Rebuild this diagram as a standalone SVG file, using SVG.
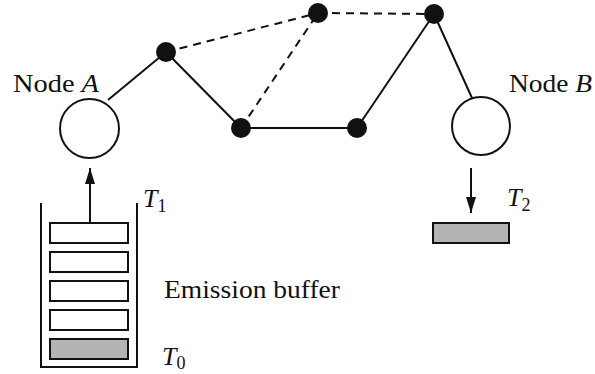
<svg xmlns="http://www.w3.org/2000/svg" width="595" height="374" viewBox="0 0 595 374">
  <style>
    .ln { stroke: #111; stroke-width: 2; fill: none; }
    .dash { stroke: #111; stroke-width: 2; fill: none; stroke-dasharray: 8 6; }
    .dot { fill: #111; }
    .node { fill: #fff; stroke: #111; stroke-width: 2; }
    .slot { fill: #fff; stroke: #111; stroke-width: 2; }
    .pkt { fill: #b4b4b4; stroke: #111; stroke-width: 2; }
    .lbl { font-family: "Liberation Serif", "Times New Roman", serif; font-size: 26px; fill: #111; }
    .it { font-style: italic; }
    .sub { font-size: 18px; font-style: normal; }
  </style>
  <defs>
    <marker id="arrowL" viewBox="0 0 16 10" refX="16" refY="5" markerWidth="16" markerHeight="10" markerUnits="userSpaceOnUse" orient="auto">
      <path d="M0,0 L16,5 L0,10 Z" fill="#111"/>
    </marker>
  </defs>
  <rect width="595" height="374" fill="#fff"/>

  <g id="connectors">
    <line class="ln" x1="108" y1="100" x2="166" y2="52"/>
    <line class="ln" x1="166" y1="52" x2="241" y2="128"/>
    <line class="ln" x1="241" y1="128" x2="357" y2="128"/>
    <line class="ln" x1="357" y1="128" x2="434" y2="14"/>
    <line class="ln" x1="434" y1="14" x2="472" y2="98"/>
    <line class="dash" x1="166" y1="52" x2="318" y2="13"/>
    <line class="dash" x1="241" y1="128" x2="318" y2="13"/>
    <line class="dash" x1="318" y1="13" x2="434" y2="14"/>
    <line class="ln" x1="90" y1="223" x2="90" y2="168" marker-end="url(#arrowL)"/>
    <line class="ln" x1="471" y1="168" x2="471" y2="213" marker-end="url(#arrowL)"/>
  </g>

  <g id="router1"><circle class="dot" cx="166" cy="52" r="10"/></g>
  <g id="router2"><circle class="dot" cx="241" cy="128" r="10"/></g>
  <g id="router3"><circle class="dot" cx="318" cy="13" r="10"/></g>
  <g id="router4"><circle class="dot" cx="357" cy="128" r="10"/></g>
  <g id="router5"><circle class="dot" cx="434" cy="14" r="10"/></g>

  <g id="nodeA">
    <circle class="node" cx="89.5" cy="128.5" r="29.5"/>
    <text class="lbl" x="13" y="92" textLength="86" lengthAdjust="spacingAndGlyphs">Node <tspan class="it">A</tspan></text>
  </g>

  <g id="nodeB">
    <circle class="node" cx="481" cy="126" r="29"/>
    <text class="lbl" x="509" y="92" textLength="83" lengthAdjust="spacingAndGlyphs">Node <tspan class="it">B</tspan></text>
  </g>

  <g id="buffer">
    <polyline class="ln" points="41,203 41,367 137,367 137,203"/>
    <rect class="slot" x="50" y="223" width="78" height="20"/>
    <rect class="slot" x="50" y="252" width="78" height="20"/>
    <rect class="slot" x="50" y="281" width="78" height="20"/>
    <rect class="slot" x="50" y="310" width="78" height="20"/>
    <rect class="pkt" x="50" y="339" width="78" height="20"/>
    <text class="lbl" x="164" y="298" textLength="176" lengthAdjust="spacingAndGlyphs">Emission buffer</text>
    <text class="lbl it" x="143" y="207">T<tspan class="sub" dy="5">1</tspan></text>
    <text class="lbl it" x="162" y="365">T<tspan class="sub" dy="4">0</tspan></text>
  </g>

  <g id="delivered">
    <rect class="pkt" x="433" y="223" width="76" height="20"/>
    <text class="lbl it" x="507" y="206">T<tspan class="sub" dy="5">2</tspan></text>
  </g>
</svg>
